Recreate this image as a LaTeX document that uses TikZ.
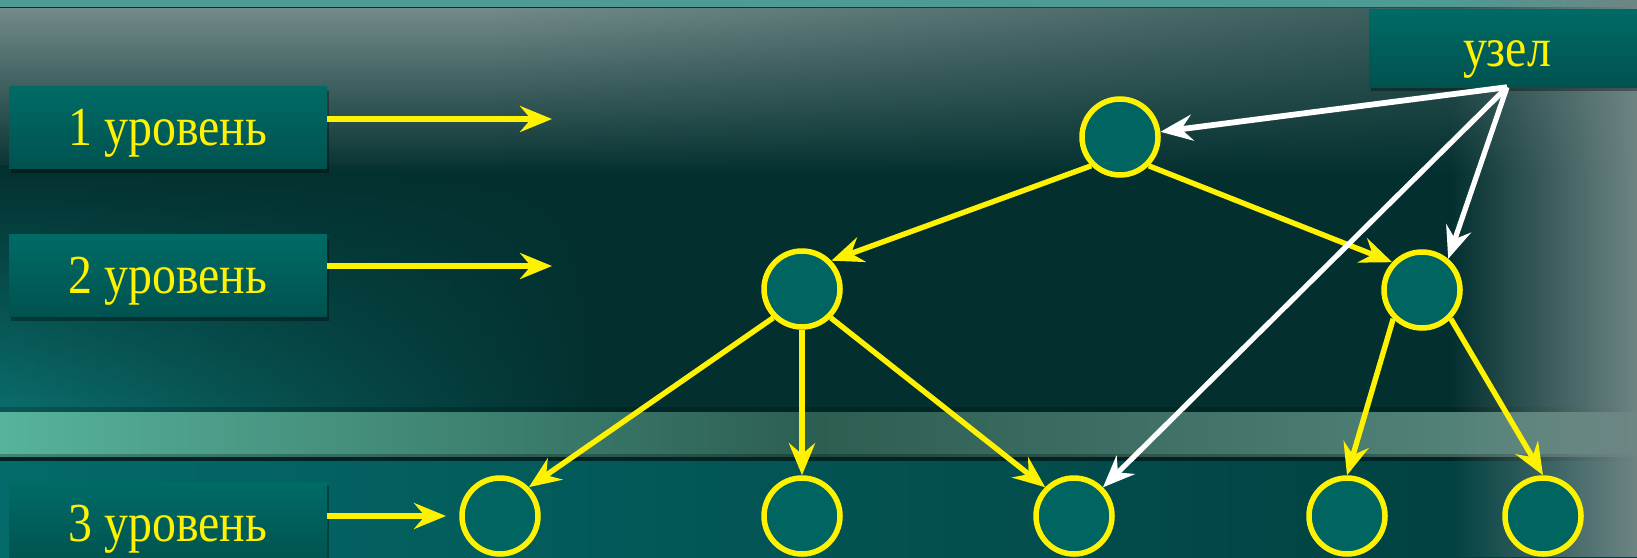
\documentclass[tikz,border=0pt]{standalone}
\usepackage{fontspec}
\setmainfont{Liberation Serif}[FakeStretch=0.87]
\usetikzlibrary{arrows.meta,shadows,fadings}
\definecolor{bgdark}{HTML}{03302F}
\definecolor{bgtop}{HTML}{728A89}
\definecolor{bgstrip}{HTML}{4E9A94}
\definecolor{bgright}{HTML}{6E8584}
\definecolor{bgleft}{HTML}{0B6E6C}
\definecolor{bandleft}{HTML}{57B39C}
\definecolor{bandmid}{HTML}{2C5E52}
\definecolor{bandright}{HTML}{5C8C82}
\definecolor{lowleft}{HTML}{046A6A}
\definecolor{lowright}{HTML}{023C3C}
\definecolor{boxtop}{HTML}{006B66}
\definecolor{boxbot}{HTML}{00524F}
\definecolor{nodefill}{HTML}{006460}
\begin{document}
\begin{tikzpicture}[x=1pt,y=-1pt,
  lvlbox/.style={draw=none, top color=boxtop, bottom color=boxbot,
    minimum width=318pt, minimum height=82pt, inner sep=0pt, text=yellow,
    font=\fontsize{55}{60}\selectfont, text height=36pt, text depth=0pt,
    drop shadow={shadow xshift=2pt, shadow yshift=-4pt, opacity=0.35, fill=black}},
  tnode/.style={circle, draw=yellow, line width=5.5pt, fill=nodefill,
    minimum size=76pt, inner sep=0pt},
  tip/.style={-{Stealth[length=32pt,width=26pt,inset=11pt]}},
  yarr/.style={tip, draw=yellow, line width=5.4pt},
  lvlarr/.style={tip, draw=yellow, line width=6pt},
  warr/.style={tip, draw=white, line width=5.2pt},
]
\useasboundingbox (0,0) rectangle (1637,557);
\clip (0,0) rectangle (1637,557);
% background
\fill[bgdark] (0,0) rectangle (1637,557);
\shade[top color=bgtop, bottom color=bgdark] (0,8) rectangle (1637,175);
\shade[top color=bgdark!60!bgtop, bottom color=bgdark, path fading=west] (500,8) rectangle (1637,175);
\fill[bgstrip] (0,0) rectangle (1637,7);
\shade[top color=bgdark, bottom color=bgleft, path fading=east] (0,165) rectangle (600,412);
\shade[left color=bandleft, right color=bandright, middle color=bandmid] (0,412) rectangle (1637,456);
\fill[black, opacity=0.25] (0,454) rectangle (1637,461);
\fill[black, opacity=0.2] (0,407) rectangle (1637,412);
\shade[left color=lowleft, right color=lowright] (0,461) rectangle (1637,557);
\fill[bgright, path fading=west] (1450,0) rectangle (1637,557);
% level boxes
\node[lvlbox] (b1) at (168,127.5) {1 уровень};
\node[lvlbox] (b2) at (168,275.5) {2 уровень};
\node[lvlbox] (b3) at (168,523) {3 уровень};
\node[lvlbox, minimum width=276pt, minimum height=78pt] (uz) at (1507,48) {узел};
% tree nodes
\node[tnode] (root) at (1120,137) {};
\node[tnode] (l2) at (802,289) {};
\node[tnode] (r2) at (1422,290) {};
\node[tnode] (c1) at (500,516) {};
\node[tnode] (c2) at (802,516) {};
\node[tnode] (c3) at (1074,516) {};
\node[tnode] (c4) at (1347,516) {};
\node[tnode] (c5) at (1543,516) {};
% level arrows
\coordinate (e1) at (552,119);
\coordinate (e2) at (552,266);
\coordinate (e3) at (446,516);
\draw[lvlarr] (b1.east |- e1) -- (e1);
\draw[lvlarr] (b2.east |- e2) -- (e2);
\draw[lvlarr] (b3.east |- e3) -- (e3);
% tree edges
\draw[yarr] (root.225) -- (l2.44);
\draw[yarr] (root.-45) -- (r2.137);
\draw[yarr] (l2.225) -- (c1.45);
\draw[yarr] (l2.south) -- (c2.north);
\draw[yarr] (l2.-45) -- (c3.135);
\draw[yarr] (r2.225) -- (c4.north);
\draw[yarr] (r2.-45) -- (c5.north);
% white pointers
\draw[warr, line width=5.8pt] (uz.south) -- (root);
\draw[warr] (uz.south) -- (r2.50);
\draw[warr] (uz.south) -- (c3);
\end{tikzpicture}
\end{document}
